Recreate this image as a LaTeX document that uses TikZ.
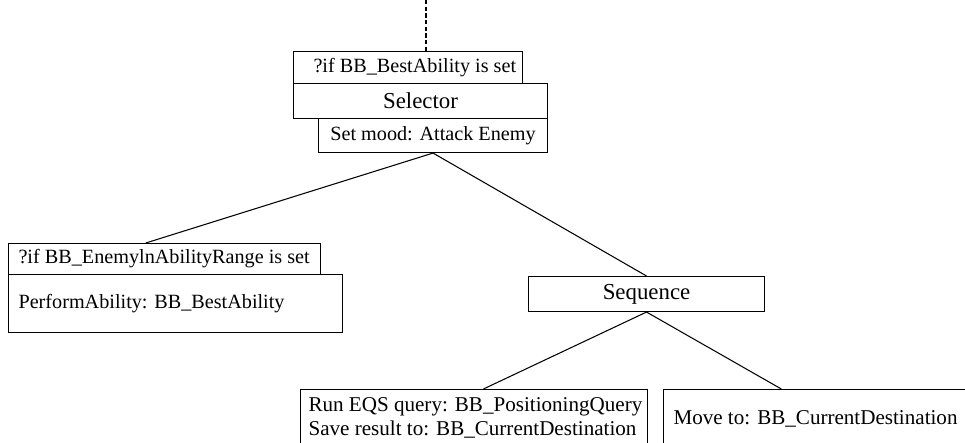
\documentclass[tikz,border=0pt]{standalone}
\usepackage{fontspec}
\setmainfont{Liberation Serif}
\usetikzlibrary{calc}
\newdimen\pxu \pxu=0.02cm
\tikzset{
  box/.style={draw, line width=0.6pt, inner sep=0pt, anchor=north west,
    font=\fontsize{11.5}{14}\selectfont},
  bigtext/.style={font=\fontsize{13}{15}\selectfont},
  lowtext/.style={font=\fontsize{12}{14.2}\selectfont},
  link/.style={line width=0.6pt},
  dashlink/.style={line width=0.6pt, dash pattern=on 2.4pt off 1.4pt},
}
\newcommand{\leftin}[3]{\makebox[#1\pxu][l]{\hspace*{#2\pxu}#3}}
\begin{document}
\begin{tikzpicture}[x=0.02cm, y=-0.02cm]
\useasboundingbox (0,0) rectangle (965,443);
\clip (0,0) rectangle (965,443);
% top group
\node[box, minimum height=32\pxu] (dec1) at (293,51) {\leftin{229}{20}{?if BB\_BestAbility is set}};
\node[box, bigtext, minimum width=254\pxu, minimum height=35\pxu] (sel) at (293,83) {Selector};
\node[box, minimum width=229\pxu, minimum height=34\pxu] (mood) at (318,118) {Set mood: Attack Enemy};
% left branch
\node[box, minimum height=31\pxu] (dec2) at (8,243) {\leftin{312}{10}{?if BB\_EnemylnAbilityRange is set}};
\node[box, minimum height=58\pxu] (perf) at (8,274) {\leftin{334}{10}{PerformAbility: BB\_BestAbility}};
% right branch
\node[box, bigtext, minimum width=236\pxu, minimum height=35\pxu] (seq) at (528,276) {Sequence};
\node[box, lowtext, minimum height=58\pxu] (eqs) at (300,389) {\leftin{347}{8}{\begin{tabular}{@{}l@{}}Run EQS query: BB\_PositioningQuery\\Save result to: BB\_CurrentDestination\end{tabular}}};
\node[box, lowtext, minimum height=58\pxu] (move) at (663,389) {\leftin{312}{10}{Move to: BB\_CurrentDestination}};
% connectors
\coordinate (top) at (426,0);
\draw[dashlink] (top) -- (top |- dec1.north);
\draw[link] (mood.south) -- ($(dec2.north west)!0.44!(dec2.north east)$);
\draw[link] (mood.south) -- (seq.north);
\draw[link] (seq.south) -- ($(eqs.north west)!0.527!(eqs.north east)$);
\draw[link] (seq.south) -- ($(move.north west)!0.378!(move.north east)$);
\end{tikzpicture}
\end{document}
